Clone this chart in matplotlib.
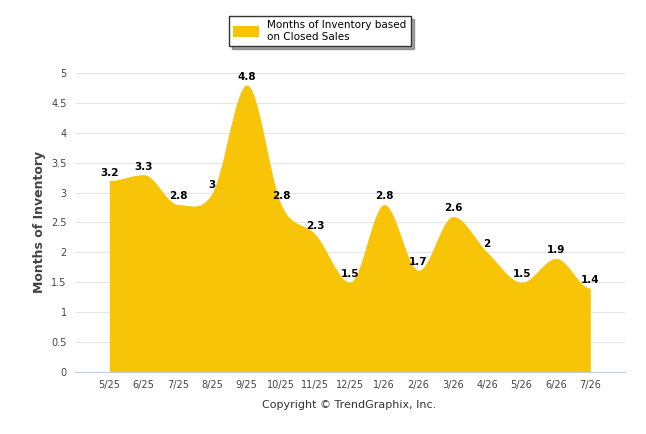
import numpy as np
import matplotlib.pyplot as plt

months = ['5/25', '6/25', '7/25', '8/25', '9/25', '10/25', '11/25', '12/25',
          '1/26', '2/26', '3/26', '4/26', '5/26', '6/26', '7/26']
inventory = [3.2, 3.3, 2.8, 3, 4.8, 2.8, 2.3, 1.5, 2.8, 1.7, 2.6, 2, 1.5, 1.9, 1.4]


def spline(y, n=40):
    # Highcharts-style smoothing: flat tangent at local extremes
    y = np.asarray(y, float)
    m = np.zeros(len(y))
    for i in range(1, len(y) - 1):
        if (y[i] - y[i-1]) * (y[i+1] - y[i]) > 0:
            m[i] = (y[i+1] - y[i-1]) / 2
    xs, ys = [], []
    for i in range(len(y) - 1):
        t = np.linspace(0, 1, n, endpoint=False)
        h00 = 2*t**3 - 3*t**2 + 1
        h10 = t**3 - 2*t**2 + t
        h01 = -2*t**3 + 3*t**2
        h11 = t**3 - t**2
        xs.append(i + t)
        ys.append(h00*y[i] + h10*m[i] + h01*y[i+1] + h11*m[i+1])
    xs.append([len(y) - 1])
    ys.append([y[-1]])
    return np.concatenate(xs), np.concatenate(ys)


fig = plt.figure(figsize=(6.46, 4.34), dpi=100)
ax = fig.add_axes([0.116, 0.143, 0.851, 0.689])
x = np.arange(len(months))
sx, sy = spline(inventory)
ax.fill_between(sx, 0, sy, color='#f7c408', linewidth=0, zorder=2,
                label='Months of Inventory based\non Closed Sales')
for xi, v in zip(x, inventory):
    ax.text(xi, v + 0.05, f'{v:g}', ha='center', va='bottom', fontsize=7.5,
            fontweight='bold', color='black', zorder=3)

ax.set_xlim(-1, 15)
ax.set_ylim(0, 5)
ax.set_yticks(np.arange(0, 5.01, 0.5))
ax.set_yticklabels([f'{v:g}' for v in np.arange(0, 5.01, 0.5)])
ax.set_xticks(x)
ax.set_xticklabels(months)
ax.tick_params(labelsize=7, colors='#444444', length=0, pad=6)
ax.grid(axis='y', color='#e6e6e6', linewidth=0.8, zorder=0)
for s in ['top', 'right', 'left']:
    ax.spines[s].set_visible(False)
ax.spines['bottom'].set_color('#c0d0e0')
ax.set_ylabel('Months of Inventory', fontsize=9, fontweight='bold', color='#444444')

leg = fig.legend(loc='upper center', bbox_to_anchor=(0.495, 0.975), fontsize=7.5,
                 frameon=True, fancybox=False, shadow=True, handlelength=2.5,
                 handleheight=1.2, borderpad=0.4)
leg.get_frame().set_edgecolor('#333333')
fig.text(0.54, 0.06, 'Copyright © TrendGraphix, Inc.', ha='center', fontsize=8, color='#333333')

fig.savefig('out.png', dpi=100)
